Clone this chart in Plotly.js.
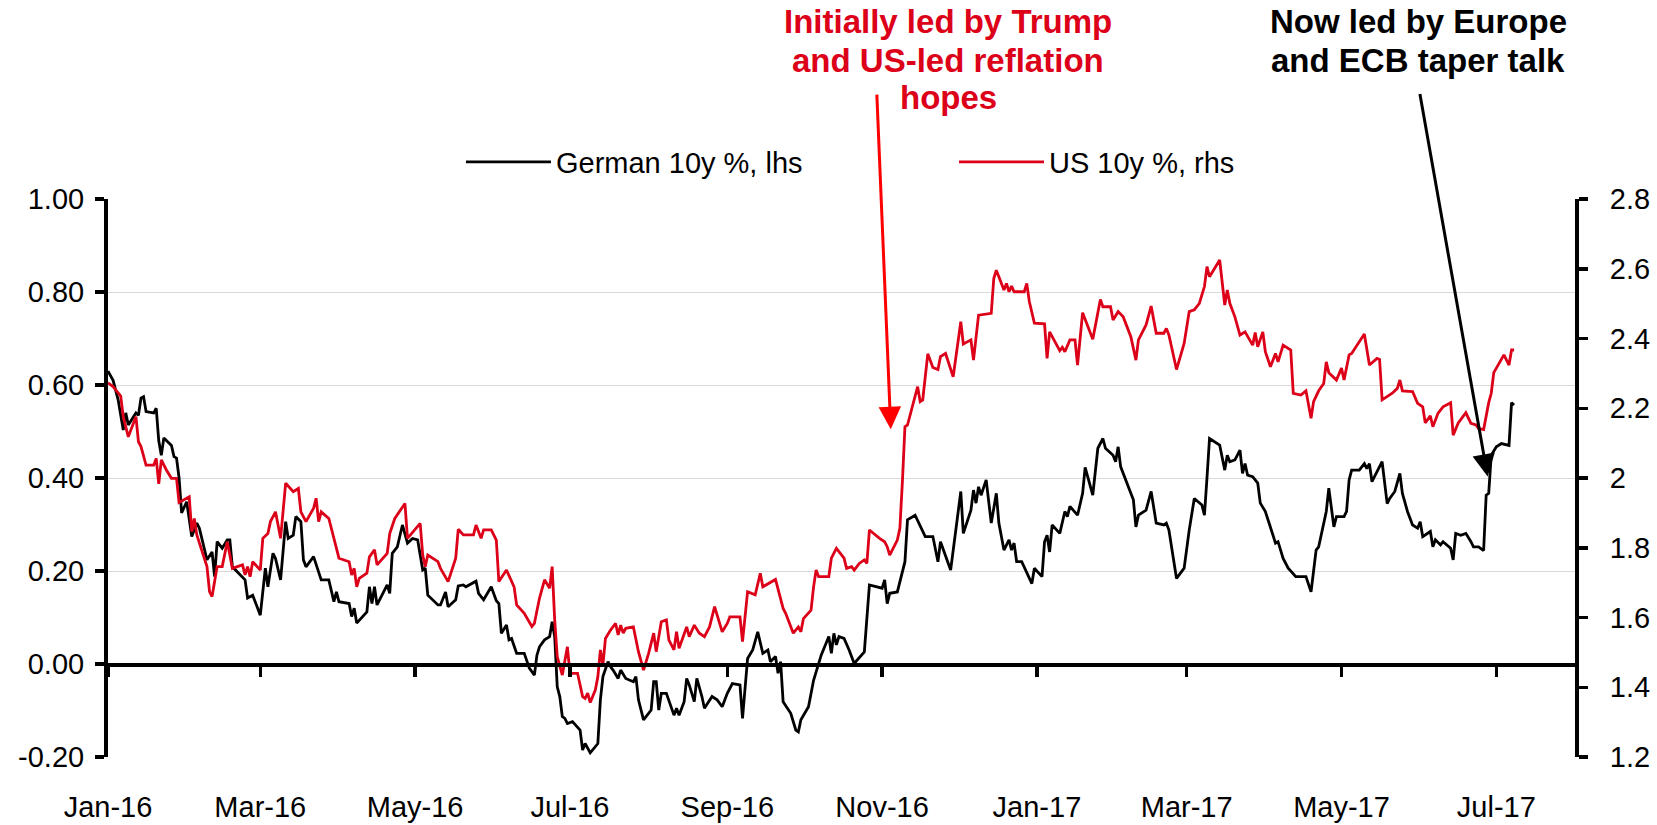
<!DOCTYPE html>
<html>
<head>
<meta charset="utf-8">
<script src="https://cdn.plot.ly/plotly-3.0.1.min.js"></script>
<style>
  html, body { margin: 0; padding: 0; background: #ffffff; }
  #chart { width: 1657px; height: 825px; }
</style>
</head>
<body>
<div id="chart"></div>
<script>
// ---- Data ----
// Day offsets are days since 2016-01-01.
const baseDate = '2016-01-01';

const germanDays = [0,2,4,6,7,8,11,12,13,14,15,18,19,20,21,22,25,26,27,28,29,31,33,35,36,39,41,42,43,45,47,48,49,53,54,55,57,60,62,63,65,66,68,70,71,73,74,76,77,78,81,84,87,89,90,91,95,96,97,98,102,103,104,105,106,110,111,112,114,116,118,120,122,124,125,126,130,131,133,134,137,138,140,141,145,146,148,151,153,154,155,157,158,159,161,164,166,168,169,170,172,174,175,176,177,178,179,180,181,183,186,187,188,190,193,194,195,197,198,199,201,202,204,207,208,209,211,214,215,216,217,218,220,223,224,225,227,228,229,231,232,234,235,238,240,242,244,246,249,250,252,254,256,258,260,261,263,264,265,266,269,271,272,273,276,278,280,281,284,285,286,287,288,290,292,294,298,300,305,306,307,308,311,313,314,315,318,322,325,327,328,332,336,337,340,341,342,343,344,346,348,350,351,353,355,356,357,358,360,364,365,368,369,370,371,372,375,377,378,379,382,384,385,388,390,392,393,396,397,398,399,403,404,405,406,409,411,413,416,417,418,421,424,426,428,431,432,433,434,438,440,441,442,444,446,447,448,449,451,453,454,456,460,461,463,465,468,472,474,476,477,480,481,483,484,487,488,489,490,493,495,496,497,498,502,504,505,507,509,510,512,514,516,517,518,521,522,523,525,526,529,530,531,533,535,537,538,540,542,543,544,545,547,549,551,552,553,554];

const germanYield = [0.63,0.61,0.568,0.503,0.54,0.514,0.54,0.535,0.572,0.575,0.543,0.54,0.55,0.48,0.449,0.486,0.47,0.446,0.443,0.40,0.325,0.349,0.274,0.303,0.292,0.224,0.241,0.188,0.263,0.249,0.267,0.267,0.209,0.185,0.181,0.142,0.148,0.105,0.206,0.166,0.238,0.227,0.181,0.306,0.27,0.277,0.317,0.306,0.224,0.209,0.231,0.181,0.181,0.134,0.155,0.134,0.13,0.102,0.12,0.088,0.112,0.166,0.13,0.166,0.127,0.17,0.152,0.238,0.252,0.299,0.26,0.27,0.267,0.202,0.206,0.148,0.127,0.127,0.155,0.123,0.138,0.168,0.17,0.166,0.178,0.152,0.138,0.166,0.136,0.13,0.066,0.084,0.052,0.055,0.023,0.023,-0.009,-0.024,0.019,0.037,0.052,0.059,0.091,0.059,-0.049,-0.07,-0.113,-0.117,-0.128,-0.124,-0.142,-0.185,-0.171,-0.191,-0.171,-0.077,-0.027,0.005,-0.006,-0.013,-0.031,-0.013,-0.031,-0.038,-0.027,-0.077,-0.12,-0.099,-0.038,-0.038,-0.099,-0.063,-0.063,-0.11,-0.095,-0.11,-0.081,-0.031,-0.045,-0.081,-0.031,-0.07,-0.095,-0.07,-0.077,-0.092,-0.063,-0.042,-0.045,-0.117,0.012,0.03,0.069,0.023,0.03,0.005,0.016,-0.02,0.005,-0.081,-0.106,-0.142,-0.146,-0.12,-0.092,-0.035,-0.002,0.019,0.059,0.023,0.066,0.041,0.059,0.055,0.03,0.001,0.026,0.17,0.163,0.181,0.13,0.152,0.155,0.202,0.22,0.31,0.32,0.274,0.274,0.22,0.263,0.202,0.371,0.281,0.331,0.374,0.346,0.381,0.363,0.396,0.303,0.367,0.303,0.245,0.267,0.245,0.26,0.22,0.22,0.173,0.206,0.188,0.263,0.277,0.241,0.299,0.281,0.328,0.317,0.339,0.32,0.367,0.423,0.363,0.464,0.485,0.464,0.449,0.435,0.467,0.424,0.367,0.353,0.295,0.32,0.331,0.371,0.303,0.299,0.303,0.288,0.184,0.206,0.288,0.356,0.342,0.32,0.40,0.485,0.471,0.417,0.449,0.435,0.439,0.46,0.41,0.431,0.406,0.403,0.389,0.346,0.328,0.26,0.263,0.227,0.206,0.188,0.188,0.155,0.245,0.252,0.328,0.378,0.295,0.317,0.317,0.328,0.396,0.417,0.417,0.431,0.42,0.431,0.392,0.435,0.345,0.356,0.371,0.41,0.367,0.328,0.299,0.292,0.306,0.274,0.285,0.252,0.267,0.256,0.263,0.249,0.224,0.281,0.277,0.281,0.263,0.252,0.252,0.244,0.363,0.367,0.449,0.467,0.474,0.471,0.47,0.562,0.557];

const usDays = [0,2,5,6,8,11,12,13,15,18,19,20,21,23,25,27,28,32,33,34,35,39,40,41,43,45,47,49,53,54,55,56,57,60,61,63,64,66,68,70,73,75,76,78,81,82,83,84,87,89,91,95,96,97,98,99,102,103,105,106,110,111,113,117,118,123,124,125,126,130,131,134,137,138,140,144,145,147,148,151,153,154,157,160,161,164,167,168,170,172,174,175,176,177,179,181,182,185,187,188,189,190,192,193,194,195,196,198,200,201,202,203,204,207,209,211,213,215,216,218,220,221,223,224,225,228,229,231,233,235,237,239,242,244,245,249,250,252,255,257,258,263,266,267,270,272,273,274,277,278,279,280,284,285,287,290,291,293,294,296,298,299,300,304,306,307,308,311,312,313,314,315,319,320,321,323,325,327,328,330,333,336,337,340,341,343,348,349,350,351,353,354,355,356,357,361,362,363,365,369,370,371,375,376,377,379,381,382,384,388,391,392,395,396,398,400,403,405,406,409,411,413,416,417,418,421,424,426,428,430,432,433,434,438,440,441,442,444,446,448,451,452,453,455,456,458,460,461,463,466,467,470,472,474,475,477,479,480,481,484,486,487,489,490,495,497,500,501,502,506,508,509,510,514,516,518,519,521,522,524,526,529,530,532,534,535,537,539,540,542,544,545,546,548,550,552,553,554];

const usYield = [2.273,2.262,2.235,2.176,2.118,2.176,2.104,2.09,2.037,2.037,2.056,1.983,2.052,2.023,1.999,1.999,1.93,1.946,1.846,1.884,1.837,1.746,1.674,1.66,1.746,1.746,1.817,1.741,1.751,1.722,1.746,1.717,1.76,1.736,1.827,1.841,1.875,1.903,1.827,1.985,1.961,1.97,1.903,1.875,1.913,1.942,1.875,1.903,1.884,1.827,1.77,1.76,1.722,1.741,1.688,1.712,1.727,1.774,1.794,1.751,1.784,1.841,1.884,1.927,1.827,1.87,1.779,1.746,1.779,1.76,1.741,1.703,1.77,1.853,1.837,1.837,1.865,1.827,1.851,1.851,1.822,1.703,1.736,1.688,1.636,1.612,1.574,1.583,1.655,1.708,1.684,1.746,1.593,1.488,1.435,1.516,1.44,1.44,1.373,1.368,1.383,1.356,1.392,1.43,1.507,1.464,1.54,1.564,1.583,1.55,1.578,1.555,1.569,1.573,1.502,1.449,1.497,1.555,1.502,1.588,1.593,1.535,1.507,1.559,1.512,1.573,1.545,1.578,1.555,1.545,1.573,1.631,1.559,1.583,1.602,1.602,1.531,1.674,1.665,1.727,1.688,1.709,1.626,1.612,1.555,1.573,1.559,1.597,1.621,1.688,1.736,1.717,1.717,1.77,1.798,1.77,1.741,1.746,1.736,1.755,1.765,1.755,1.851,1.827,1.817,1.803,1.779,1.822,1.856,1.99,2.147,2.152,2.262,2.219,2.224,2.356,2.317,2.311,2.348,2.357,2.29,2.448,2.384,2.396,2.338,2.467,2.472,2.572,2.596,2.577,2.539,2.558,2.534,2.55,2.534,2.534,2.558,2.506,2.444,2.442,2.343,2.419,2.365,2.375,2.362,2.396,2.396,2.324,2.474,2.398,2.512,2.491,2.491,2.453,2.477,2.462,2.405,2.338,2.396,2.439,2.493,2.415,2.415,2.429,2.41,2.311,2.386,2.477,2.482,2.501,2.549,2.606,2.577,2.625,2.496,2.539,2.501,2.462,2.41,2.419,2.381,2.417,2.376,2.419,2.362,2.319,2.357,2.333,2.381,2.367,2.243,2.238,2.25,2.171,2.219,2.25,2.271,2.333,2.302,2.281,2.315,2.281,2.353,2.357,2.413,2.324,2.343,2.34,2.224,2.243,2.257,2.281,2.25,2.248,2.214,2.204,2.158,2.178,2.147,2.185,2.204,2.216,2.123,2.158,2.176,2.187,2.157,2.152,2.142,2.139,2.216,2.243,2.302,2.327,2.353,2.324,2.367,2.367];

const seriesNames = ['German 10y %, lhs', 'US 10y %, rhs'];
const leftTickValues = [-0.2, 0, 0.2, 0.4, 0.6, 0.8, 1.0];
const leftTickLabels = ['-0.20', '0.00', '0.20', '0.40', '0.60', '0.80', '1.00'];
const rightTickValues = [1.2, 1.4, 1.6, 1.8, 2.0, 2.2, 2.4, 2.6, 2.8];
const rightTickLabels = ['1.2', '1.4', '1.6', '1.8', '2', '2.2', '2.4', '2.6', '2.8'];
const xRange = ['2016-01-01', '2017-08-01'];

const noteUS = ['Initially led by Trump', 'and US-led reflation', 'hopes'];
const noteEU = ['Now led by Europe', 'and ECB taper talk'];

// ---- helpers ----
function dayToDate(d) {
  const t = new Date(Date.parse(baseDate + 'T00:00:00Z') + d * 86400000);
  return t.toISOString().slice(0, 10);
}

const RED = '#DC0019';
const tickFont = { family: '"Liberation Sans", Arial, sans-serif', size: 29, color: '#000000' };
const boldFont = { family: '"Liberation Sans", Arial, sans-serif', size: 33 };

const traces = [
  {
    type: 'scatter', mode: 'lines', name: seriesNames[0],
    x: germanDays.map(dayToDate), y: germanYield,
    xaxis: 'x', yaxis: 'y',
    line: { color: '#000000', width: 2.8 },
    legend: 'legend'
  },
  {
    type: 'scatter', mode: 'lines', name: seriesNames[1],
    x: usDays.map(dayToDate), y: usYield,
    xaxis: 'x2', yaxis: 'y2',
    line: { color: RED, width: 2.8 },
    legend: 'legend2'
  }
];

const legendBase = {
  orientation: 'h', yanchor: 'middle', xanchor: 'left', y: 1.0663,
  font: tickFont, bgcolor: 'rgba(0,0,0,0)', borderwidth: 0, itemwidth: 85
};

function textNote(txt, xp, yp, color) {
  return { xref: 'paper', yref: 'paper', x: xp, y: yp, xanchor: 'center', yanchor: 'middle',
           text: '<b>' + txt + '</b>', showarrow: false,
           font: Object.assign({}, boldFont, { color: color }) };
}

const annotations = [
  textNote(noteUS[0], 0.5726, 1.3181, RED),
  textNote(noteUS[1], 0.5726, 1.2491, RED),
  textNote(noteUS[2], 0.5726, 1.1819, RED),
  textNote(noteEU[0], 0.8930, 1.3181, '#000000'),
  textNote(noteEU[1], 0.8930, 1.2491, '#000000'),
  { xref: 'x', yref: 'y', x: '2016-11-04 10:00', y: 0.505, text: '', showarrow: true,
    ax: -14, ay: -336, arrowhead: 2, arrowsize: 1.5, arrowwidth: 3, arrowcolor: '#FF0000' },
  { xref: 'x', yref: 'y', x: '2017-06-27 14:00', y: 0.403, text: '', showarrow: true,
    ax: -68, ay: -384, arrowhead: 2, arrowsize: 1.5, arrowwidth: 3, arrowcolor: '#000000' }
];

const layout = {
  width: 1657, height: 825,
  margin: { l: 108, r: 82, t: 199, b: 68, pad: 0 },
  paper_bgcolor: '#ffffff', plot_bgcolor: '#ffffff',
  showlegend: true,
  legend: Object.assign({}, legendBase, { x: 0.2406 }),
  legend2: Object.assign({}, legendBase, { x: 0.5767 }),
  xaxis: {
    type: 'date', range: xRange, tick0: '2016-01-01', dtick: 'M2', tickformat: '%b-%y',
    showgrid: false, zeroline: false, showline: false, ticks: '',
    tickfont: tickFont, ticklabelstandoff: 30
  },
  xaxis2: {
    type: 'date', range: xRange, tick0: '2016-01-01', dtick: 'M2',
    overlaying: 'x', anchor: 'free', position: 0.2 / 1.2, side: 'bottom',
    showgrid: false, zeroline: false, showticklabels: false,
    showline: true, linecolor: '#000000', linewidth: 3.5,
    ticks: 'outside', ticklen: 10, tickwidth: 3.5, tickcolor: '#000000'
  },
  yaxis: {
    range: [-0.2, 1.0], tickvals: leftTickValues, ticktext: leftTickLabels,
    showgrid: true, gridcolor: '#D9D9D9', gridwidth: 1, zeroline: false,
    showline: true, linecolor: '#000000', linewidth: 4,
    ticks: 'outside', ticklen: 9, tickwidth: 3.5, tickcolor: '#000000',
    tickfont: tickFont, ticklabelstandoff: 5
  },
  yaxis2: {
    range: [1.2, 2.8], tickvals: rightTickValues, ticktext: rightTickLabels,
    overlaying: 'y', side: 'right', anchor: 'x2',
    showgrid: false, zeroline: false,
    showline: true, linecolor: '#000000', linewidth: 4,
    ticks: 'outside', ticklen: 9, tickwidth: 3.5, tickcolor: '#000000',
    tickfont: tickFont, ticklabelstandoff: 16
  },
  annotations: annotations
};

Plotly.newPlot('chart', traces, layout, { displayModeBar: false, staticPlot: true });
</script>
</body>
</html>
